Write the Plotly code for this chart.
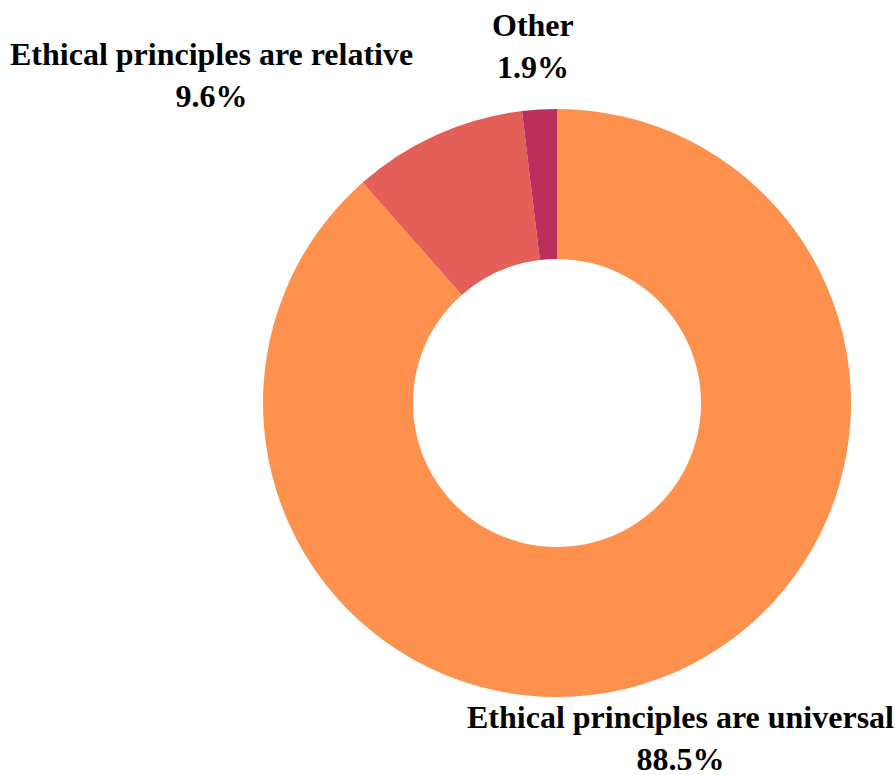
import plotly.graph_objects as go

# Survey responses on the nature of ethical principles
labels = ["Ethical principles are universal", "Ethical principles are relative", "Other"]
values = [88.5, 9.6, 1.9]
colors = ["#FE914D", "#E35F58", "#BA2F5B"]

# Where each label block sits on the page (paper coordinates)
label_x = [0.760, 0.2358, 0.5955]
label_y = [0.048, 0.9026, 0.9406]

total = sum(values)

fig = go.Figure(
    go.Pie(
        labels=labels,
        values=values,
        hole=0.49,
        sort=False,
        direction="clockwise",
        rotation=0,
        marker=dict(colors=colors, line=dict(width=0)),
        textinfo="none",
        hoverinfo="label+percent",
        domain=dict(x=[263 / 895, 851 / 895], y=[77 / 775, 667 / 775]),
    )
)

for lab, val, lx, ly in zip(labels, values, label_x, label_y):
    fig.add_annotation(
        x=lx,
        y=ly,
        xref="paper",
        yref="paper",
        xanchor="center",
        yanchor="middle",
        showarrow=False,
        align="center",
        text=f"<b>{lab}</b><br><b>{val / total * 100:.1f}%</b>",
        font=dict(family="Liberation Serif", size=32, color="black"),
    )

fig.update_layout(
    width=895,
    height=775,
    showlegend=False,
    paper_bgcolor="white",
    plot_bgcolor="white",
    margin=dict(l=0, r=0, t=0, b=0),
)

fig.write_html("out.html")
